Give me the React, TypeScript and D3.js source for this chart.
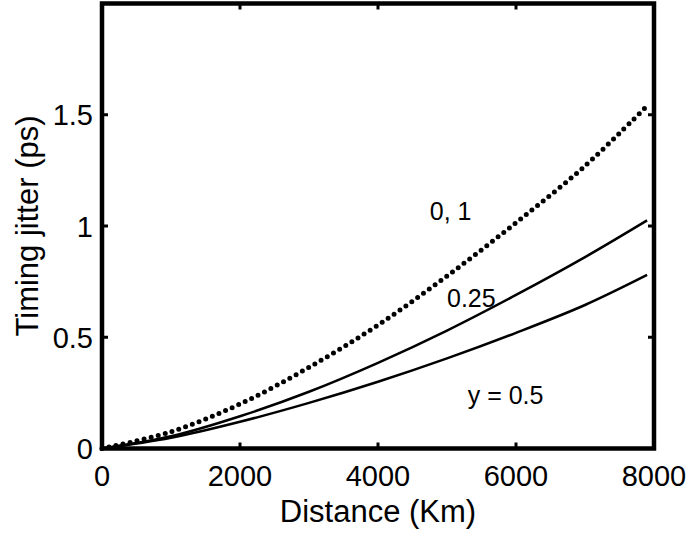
import React, { useEffect, useRef } from "react";
import * as d3 from "d3";

const distances = [0, 1000, 2000, 3000, 4000, 5000, 6000, 7000, 7900];
const jitter01 = [0, 0.075, 0.2, 0.365, 0.555, 0.775, 1.015, 1.27, 1.54];
const jitter025 = [0, 0.055, 0.145, 0.255, 0.385, 0.53, 0.69, 0.86, 1.025];
const jitter05 = [0, 0.048, 0.12, 0.205, 0.3, 0.405, 0.52, 0.645, 0.78];

const xTicks = [0, 2000, 4000, 6000, 8000];
const yTicks = [0, 0.5, 1, 1.5];

const curveLabels = [
  { text: "0, 1", d: 4750, v: 1.025 },
  { text: "0.25", d: 5000, v: 0.635 },
  { text: "y = 0.5", d: 5300, v: 0.2 },
];

const App = () => {
  const svgRef = useRef<SVGSVGElement>(null);

  useEffect(() => {
    const width = 691;
    const height = 534;
    const left = 102;
    const right = 654;
    const top = 3.5;
    const bottom = 448.5;
    const font = "'Liberation Sans', Arial, sans-serif";

    const svg = d3.select(svgRef.current);
    svg.selectAll("*").remove();
    svg.attr("width", width).attr("height", height);

    const x = d3.scaleLinear().domain([0, 8000]).range([left, right]);
    const y = d3.scaleLinear().domain([0, 2]).range([bottom, top]);

    const line = d3
      .line<number>()
      .x((d, i) => x(distances[i]))
      .y((d) => y(d))
      .curve(d3.curveCatmullRom.alpha(0.5));

    // curves
    svg
      .append("path")
      .datum(jitter01)
      .attr("fill", "none")
      .attr("stroke", "black")
      .attr("stroke-width", 5)
      .attr("stroke-linecap", "round")
      .attr("stroke-dasharray", "0 7.2")
      .attr("d", line);

    [jitter025, jitter05].forEach((s) => {
      svg
        .append("path")
        .datum(s)
        .attr("fill", "none")
        .attr("stroke", "black")
        .attr("stroke-width", 2.5)
        .attr("d", line);
    });

    // ticks (inside, all four sides)
    const tl = 6;
    xTicks.slice(1, -1).forEach((t) => {
      svg.append("line").attr("x1", x(t)).attr("x2", x(t)).attr("y1", bottom).attr("y2", bottom - tl)
        .attr("stroke", "black").attr("stroke-width", 3);
      svg.append("line").attr("x1", x(t)).attr("x2", x(t)).attr("y1", top).attr("y2", top + tl)
        .attr("stroke", "black").attr("stroke-width", 3);
    });
    yTicks.slice(1).forEach((t) => {
      svg.append("line").attr("x1", left).attr("x2", left + tl).attr("y1", y(t)).attr("y2", y(t))
        .attr("stroke", "black").attr("stroke-width", 3);
      svg.append("line").attr("x1", right).attr("x2", right - tl).attr("y1", y(t)).attr("y2", y(t))
        .attr("stroke", "black").attr("stroke-width", 3);
    });

    // box
    svg
      .append("rect")
      .attr("x", left)
      .attr("y", top)
      .attr("width", right - left)
      .attr("height", bottom - top)
      .attr("fill", "none")
      .attr("stroke", "black")
      .attr("stroke-width", 4.5);

    // tick labels
    svg
      .selectAll(".xt")
      .data(xTicks)
      .enter()
      .append("text")
      .attr("x", (d) => x(d))
      .attr("y", 486)
      .attr("text-anchor", "middle")
      .style("font-family", font)
      .style("font-size", "29px")
      .text((d) => d);

    svg
      .selectAll(".yt")
      .data(yTicks)
      .enter()
      .append("text")
      .attr("x", 93)
      .attr("y", (d) => y(d) + 10.5)
      .attr("text-anchor", "end")
      .style("font-family", font)
      .style("font-size", "29px")
      .text((d) => d);

    // axis titles
    svg
      .append("text")
      .attr("x", (left + right) / 2)
      .attr("y", 522)
      .attr("text-anchor", "middle")
      .style("font-family", font)
      .style("font-size", "31px")
      .text("Distance (Km)");

    svg
      .append("text")
      .attr("transform", `translate(38,${(top + bottom) / 2}) rotate(-90)`)
      .attr("text-anchor", "middle")
      .style("font-family", font)
      .style("font-size", "31px")
      .text("Timing jitter (ps)");

    // curve labels
    svg
      .selectAll(".cl")
      .data(curveLabels)
      .enter()
      .append("text")
      .attr("x", (d) => x(d.d))
      .attr("y", (d) => y(d.v))
      .style("font-family", font)
      .style("font-size", "25px")
      .text((d) => d.text);
  }, []);

  return <svg ref={svgRef} style={{ position: "absolute", left: 0, top: 0 }}></svg>;
};

export default App;
